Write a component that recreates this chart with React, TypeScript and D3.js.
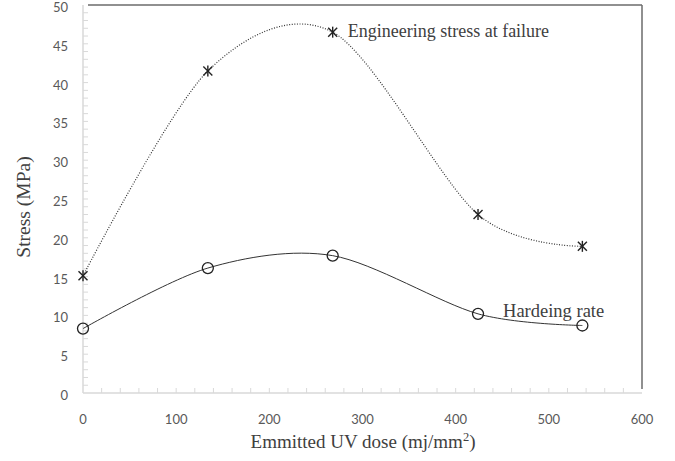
import { useRef, useEffect } from 'react';
import * as d3 from 'd3';

const W = 675;
const H = 461;
const MARGIN = { top: 5, right: 33, bottom: 68, left: 83 };

const doseStress = [0, 134, 268, 424, 536];
const stressValues = [15.1, 41.5, 46.5, 23, 18.9];
const doseHarden = [0, 134, 268, 424, 536];
const hardenValues = [8.3, 16.1, 17.7, 10.2, 8.7];

const xTicks = [0, 100, 200, 300, 400, 500, 600];
const yTicks = [0, 5, 10, 15, 20, 25, 30, 35, 40, 45, 50];

const seriesLabels = ['Engineering stress at failure', 'Hardeing rate'];

export default function App() {
  const svgRef = useRef<SVGSVGElement | null>(null);

  useEffect(() => {
    const svg = d3.select(svgRef.current);
    svg.selectAll('*').remove();

    const w = W - MARGIN.left - MARGIN.right;
    const h = H - MARGIN.top - MARGIN.bottom;
    const g = svg.append('g').attr('transform', `translate(${MARGIN.left},${MARGIN.top})`);

    const x = d3.scaleLinear().domain([0, 600]).range([0, w]);
    const y = d3.scaleLinear().domain([0, 50]).range([h, 0]);

    const tickFont = 'Lato, Open Sans, sans-serif';
    const serif = 'Liberation Serif, DejaVu Serif, serif';

    // frame: top + right dark, bottom + left light
    g.append('line').attr('x1', 5).attr('x2', w).attr('y1', 0).attr('y2', 0)
      .attr('stroke', '#6b6b6b').attr('stroke-width', 1.5);
    g.append('line').attr('x1', w).attr('x2', w).attr('y1', 0).attr('y2', h - 4)
      .attr('stroke', '#6b6b6b').attr('stroke-width', 1.5);

    // minor ticks (inside)
    d3.range(1, 50).forEach(v => {
      g.append('line').attr('x1', 0).attr('x2', 5).attr('y1', y(v)).attr('y2', y(v))
        .attr('stroke', '#d9d9d9');
    });
    d3.range(20, 600, 20).forEach(v => {
      g.append('line').attr('x1', x(v)).attr('x2', x(v)).attr('y1', h).attr('y2', h - 5)
        .attr('stroke', '#d9d9d9');
    });

    g.append('line').attr('x1', 0).attr('x2', 0).attr('y1', 0).attr('y2', h)
      .attr('stroke', '#d9d9d9').attr('stroke-width', 1.5);
    g.append('line').attr('x1', 0).attr('x2', w).attr('y1', h).attr('y2', h)
      .attr('stroke', '#d9d9d9').attr('stroke-width', 1.5);

    // tick labels
    yTicks.forEach(v => {
      g.append('text').attr('x', -15).attr('y', y(v) + 7)
        .attr('text-anchor', 'end').style('font-family', tickFont)
        .style('font-size', '13px').attr('fill', '#595959').text(v);
    });
    xTicks.forEach(v => {
      g.append('text').attr('x', x(v)).attr('y', h + 31)
        .attr('text-anchor', 'middle').style('font-family', tickFont)
        .style('font-size', '13px').attr('fill', '#595959').text(v);
    });

    // axis titles
    g.append('text').attr('transform', 'rotate(-90)')
      .attr('x', -(207 - MARGIN.top)).attr('y', -53)
      .attr('text-anchor', 'middle').style('font-family', serif)
      .style('font-size', '19.5px').attr('fill', '#404040').text('Stress (MPa)');
    const xt = g.append('text').attr('x', 363 - MARGIN.left).attr('y', h + 55)
      .attr('text-anchor', 'middle').style('font-family', serif)
      .style('font-size', '19px').attr('fill', '#404040');
    xt.append('tspan').text('Emmitted UV dose (mj/mm');
    xt.append('tspan').style('font-size', '12.5px').attr('dy', -7).text('2');
    xt.append('tspan').attr('dy', 7).text(')');

    const line = d3.line<[number, number]>()
      .x(d => x(d[0])).y(d => y(d[1]))
      .curve(d3.curveCardinal.tension(0.1));

    const stressPts = doseStress.map((d, i) => [d, stressValues[i]] as [number, number]);
    const hardenPts = doseHarden.map((d, i) => [d, hardenValues[i]] as [number, number]);

    g.append('path').datum(stressPts).attr('d', line)
      .attr('fill', 'none').attr('stroke', '#333').attr('stroke-width', 1.2)
      .attr('stroke-dasharray', '1,1.6');
    g.append('path').datum(hardenPts).attr('d', line)
      .attr('fill', 'none').attr('stroke', '#333').attr('stroke-width', 1);

    // star markers
    stressPts.forEach(p => {
      const cx = x(p[0]);
      const cy = y(p[1]);
      const s = 4.5;
      const m = g.append('g').attr('transform', `translate(${cx},${cy})`)
        .attr('stroke', '#222').attr('stroke-width', 1.4);
      m.append('line').attr('x1', -s).attr('y1', -s).attr('x2', s).attr('y2', s);
      m.append('line').attr('x1', -s).attr('y1', s).attr('x2', s).attr('y2', -s);
      m.append('line').attr('x1', 0).attr('y1', -s - 1).attr('x2', 0).attr('y2', s + 1);
    });

    hardenPts.forEach(p => {
      g.append('circle').attr('cx', x(p[0])).attr('cy', y(p[1])).attr('r', 5.5)
        .attr('fill', 'none').attr('stroke', '#222').attr('stroke-width', 1.3);
    });

    // series labels
    g.append('text').attr('x', x(doseStress[2]) + 15).attr('y', y(stressValues[2]) + 5)
      .style('font-family', serif).style('font-size', '18px').attr('fill', '#404040')
      .text(seriesLabels[0]);
    g.append('text').attr('x', x(doseHarden[3]) + 25).attr('y', y(hardenValues[3]) + 3)
      .style('font-family', serif).style('font-size', '18.5px').attr('fill', '#404040')
      .text(seriesLabels[1]);
  }, []);

  return (
    <svg ref={svgRef} width={W} height={H}
      style={{ position: 'absolute', left: 0, top: 0, background: '#fff' }} />
  );
}
